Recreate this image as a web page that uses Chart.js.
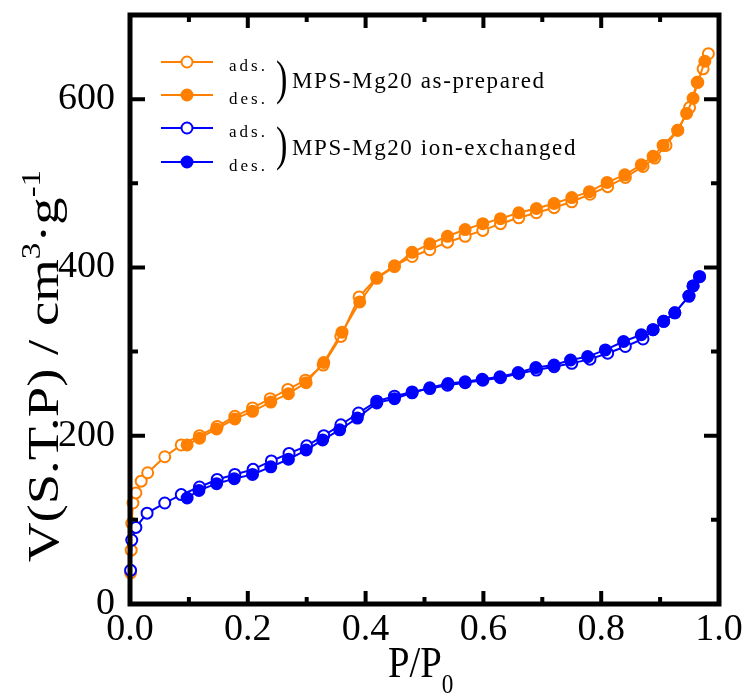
<!DOCTYPE html>
<html>
<head>
<meta charset="utf-8">
<script src="https://cdn.jsdelivr.net/npm/chart.js@4.4.1/dist/chart.umd.min.js"></script>
<style>
  html, body { margin: 0; padding: 0; background: #fff; }
  canvas { display: block; }
</style>
</head>
<body>
<canvas id="isotherm" width="749" height="694"></canvas>
<script>
// P/P0 and V values
const asPrepAdsP = [0.001, 0.002, 0.003, 0.005, 0.010, 0.019, 0.030, 0.059, 0.087, 0.118, 0.148, 0.178, 0.208, 0.238, 0.268, 0.298, 0.328, 0.358, 0.389, 0.419, 0.449, 0.479, 0.509, 0.539, 0.569, 0.599, 0.629, 0.660, 0.690, 0.720, 0.750, 0.781, 0.811, 0.841, 0.871, 0.891, 0.910, 0.930, 0.950, 0.963, 0.973, 0.982];
const asPrepAdsV = [37, 64, 96, 120, 132, 146, 156, 175, 189, 200, 211, 223, 233, 244, 255, 266, 284, 318, 365, 388, 402, 413, 421, 430, 437, 444, 452, 459, 465, 471, 478, 487, 496, 507, 520, 530, 545, 563, 590, 620, 636, 654];

const asPrepDesP = [0.097, 0.118, 0.147, 0.178, 0.208, 0.239, 0.269, 0.299, 0.329, 0.360, 0.390, 0.419, 0.449, 0.479, 0.509, 0.539, 0.569, 0.599, 0.629, 0.660, 0.690, 0.720, 0.750, 0.780, 0.810, 0.840, 0.868, 0.888, 0.905, 0.930, 0.945, 0.956, 0.964, 0.976];
const asPrepDesV = [189, 197, 208, 220, 229, 240, 250, 263, 287, 323, 359, 387, 401, 418, 428, 437, 445, 452, 458, 465, 470, 476, 483, 490, 501, 510, 522, 532, 545, 563, 583, 601, 620, 645];

const ionExAdsP = [0.001, 0.003, 0.010, 0.029, 0.059, 0.087, 0.118, 0.148, 0.178, 0.209, 0.240, 0.270, 0.300, 0.329, 0.358, 0.388, 0.419, 0.449, 0.479, 0.509, 0.539, 0.569, 0.599, 0.629, 0.660, 0.690, 0.720, 0.750, 0.781, 0.811, 0.841, 0.871, 0.888, 0.906, 0.925, 0.949, 0.956, 0.967];
const ionExAdsV = [40, 76, 91, 108, 120, 130, 139, 148, 154, 160, 170, 179, 188, 200, 213, 227, 241, 247, 252, 256, 260, 263, 266, 269, 274, 278, 282, 286, 291, 298, 306, 315, 326, 336, 346, 366, 378, 389];

const ionExDesP = [0.097, 0.117, 0.147, 0.177, 0.208, 0.239, 0.269, 0.299, 0.327, 0.356, 0.386, 0.419, 0.449, 0.479, 0.509, 0.540, 0.569, 0.598, 0.628, 0.659, 0.689, 0.720, 0.748, 0.777, 0.807, 0.838, 0.868, 0.888, 0.906, 0.925, 0.949, 0.956, 0.967];
const ionExDesV = [126, 135, 143, 149, 154, 163, 172, 183, 195, 207, 221, 239, 244, 251, 257, 262, 264, 267, 270, 275, 281, 284, 290, 294, 302, 312, 320, 326, 336, 346, 366, 378, 389];

const xTicks = [0.0, 0.2, 0.4, 0.6, 0.8, 1.0];
const yTicks = [0, 200, 400, 600];

const orange = '#ff8000';
const blue = '#0000ff';
const serif = '"Liberation Serif", "Times New Roman", serif';

function pts(xs, ys) {
    return xs.map((x, i) => ({ x: x, y: ys[i] }));
}

function series(label, xs, ys, color, filled, order) {
    return {
        label: label,
        data: pts(xs, ys),
        showLine: true,
        borderColor: color,
        borderWidth: 2,
        pointRadius: 5.5,
        pointBorderWidth: 2,
        pointBorderColor: color,
        pointBackgroundColor: filled ? color : '#ffffff',
        clip: false,
        order: order
    };
}

// rich text along a baseline, with sup/sub parts; sx stretches along the baseline
function drawRich(ctx, parts, size, sx) {
    let x = 0;
    parts.forEach(p => {
        const fs = p.sup || p.sub ? size * 0.6 : size;
        ctx.font = fs + 'px ' + serif;
        const dy = p.sup ? -size * 0.42 : (p.sub ? size * 0.36 : 0);
        ctx.save();
        ctx.scale(sx, 1);
        ctx.fillText(p.t, x / sx, dy);
        ctx.restore();
        x += ctx.measureText(p.t).width * sx;
    });
    return x;
}

function richWidth(ctx, parts, size) {
    let w = 0;
    parts.forEach(p => {
        const fs = p.sup || p.sub ? size * 0.6 : size;
        ctx.font = fs + 'px ' + serif;
        w += ctx.measureText(p.t).width;
    });
    return w;
}

const framePlugin = {
    id: 'frame',
    afterDatasetsDraw(chart) {
        const ctx = chart.ctx;
        const a = chart.chartArea;
        const xs = chart.scales.x;
        const ys = chart.scales.y;
        ctx.save();
        ctx.strokeStyle = '#000';
        ctx.lineCap = 'butt';
        ctx.lineWidth = 4;
        for (let i = 1; i < 10; i++) {
            const px = xs.getPixelForValue(i / 10);
            const len = i % 2 === 0 ? 13 : 7;
            ctx.beginPath();
            ctx.moveTo(px, a.bottom); ctx.lineTo(px, a.bottom - len);
            ctx.moveTo(px, a.top); ctx.lineTo(px, a.top + len);
            ctx.stroke();
        }
        for (let v = 100; v < 700; v += 100) {
            const py = ys.getPixelForValue(v);
            const len = v % 200 === 0 ? 15 : 8;
            ctx.beginPath();
            ctx.moveTo(a.left, py); ctx.lineTo(a.left + len, py);
            ctx.moveTo(a.right, py); ctx.lineTo(a.right - len, py);
            ctx.stroke();
        }
        ctx.lineWidth = 5;
        ctx.strokeRect(a.left, a.top, a.right - a.left, a.bottom - a.top);
        ctx.restore();
    },
    afterDraw(chart) {
        const ctx = chart.ctx;
        ctx.save();
        ctx.fillStyle = '#000';
        ctx.textBaseline = 'alphabetic';

        // x title
        ctx.save();
        ctx.translate(388, 677);
        drawRich(ctx, [{ t: 'P/P' }, { t: '0', sub: true }], 44, 0.88);
        ctx.restore();

        // y title
        const yParts = [{ t: 'V(S.T.P) / cm' }, { t: '3', sup: true }, { t: '·g' }, { t: '-1', sup: true }];
        const natural = richWidth(ctx, yParts, 44);
        ctx.save();
        ctx.translate(58, 562);
        ctx.rotate(-Math.PI / 2);
        drawRich(ctx, yParts, 44, 392 / natural);
        ctx.restore();

        // legend
        const rows = [
            { y: 62, color: orange, filled: false, word: 'ads.' },
            { y: 95, color: orange, filled: true, word: 'des.' },
            { y: 128, color: blue, filled: false, word: 'ads.' },
            { y: 162, color: blue, filled: true, word: 'des.' }
        ];
        rows.forEach(r => {
            ctx.strokeStyle = r.color;
            ctx.lineWidth = 2;
            ctx.beginPath();
            ctx.moveTo(161, r.y); ctx.lineTo(213, r.y);
            ctx.stroke();
            ctx.beginPath();
            ctx.arc(187, r.y, 5.5, 0, Math.PI * 2);
            ctx.fillStyle = r.filled ? r.color : '#fff';
            ctx.fill();
            ctx.stroke();
            ctx.fillStyle = '#000';
            ctx.font = '17px ' + serif;
            ctx.letterSpacing = '3px';
            ctx.fillText(r.word, 229, r.y + 9);
        });
        ctx.letterSpacing = '0px';
        const groups = [
            { y: 81, text: 'MPS-Mg20 as-prepared', base: 88 },
            { y: 147, text: 'MPS-Mg20 ion-exchanged', base: 155 }
        ];
        groups.forEach(g => {
            ctx.save();
            ctx.font = '49px ' + serif;
            ctx.translate(276, g.y + 12.5);
            ctx.scale(0.7, 1);
            ctx.fillText(')', 0, 0);
            ctx.restore();
            ctx.font = '23px ' + serif;
            ctx.letterSpacing = '1.6px';
            ctx.fillText(g.text, 292, g.base);
            ctx.letterSpacing = '0px';
        });
        ctx.restore();
    }
};

Chart.defaults.font.family = serif;
Chart.defaults.color = '#000';

new Chart(document.getElementById('isotherm'), {
    type: 'scatter',
    data: {
        datasets: [
            series('MPS-Mg20 ion-exchanged des.', ionExDesP, ionExDesV, blue, true, 1),
            series('MPS-Mg20 ion-exchanged ads.', ionExAdsP, ionExAdsV, blue, false, 2),
            series('MPS-Mg20 as-prepared des.', asPrepDesP, asPrepDesV, orange, true, 3),
            series('MPS-Mg20 as-prepared ads.', asPrepAdsP, asPrepAdsV, orange, false, 4)
        ]
    },
    options: {
        responsive: false,
        animation: false,
        devicePixelRatio: 1,
        layout: { padding: { left: 0, top: 15, right: 30, bottom: 0 } },
        plugins: { legend: { display: false }, tooltip: { enabled: false } },
        scales: {
            x: {
                type: 'linear',
                min: 0,
                max: 1,
                grid: { display: false, drawTicks: false },
                border: { display: false },
                afterFit: s => { s.height = 90; s.paddingLeft = 0; s.paddingRight = 0; },
                afterBuildTicks: s => { s.ticks = xTicks.map(v => ({ value: v })); },
                ticks: {
                    font: { size: 38 },
                    padding: 3,
                    maxRotation: 0,
                    autoSkip: false,
                    callback: v => v.toFixed(1)
                }
            },
            y: {
                type: 'linear',
                min: 0,
                max: 700,
                grid: { display: false, drawTicks: false },
                border: { display: false },
                afterFit: s => { s.width = 130; s.paddingTop = 0; s.paddingBottom = 0; },
                afterBuildTicks: s => { s.ticks = yTicks.map(v => ({ value: v })); },
                ticks: {
                    font: { size: 38 },
                    padding: 15,
                    callback: v => String(v)
                }
            }
        }
    },
    plugins: [framePlugin]
});
</script>
</body>
</html>
